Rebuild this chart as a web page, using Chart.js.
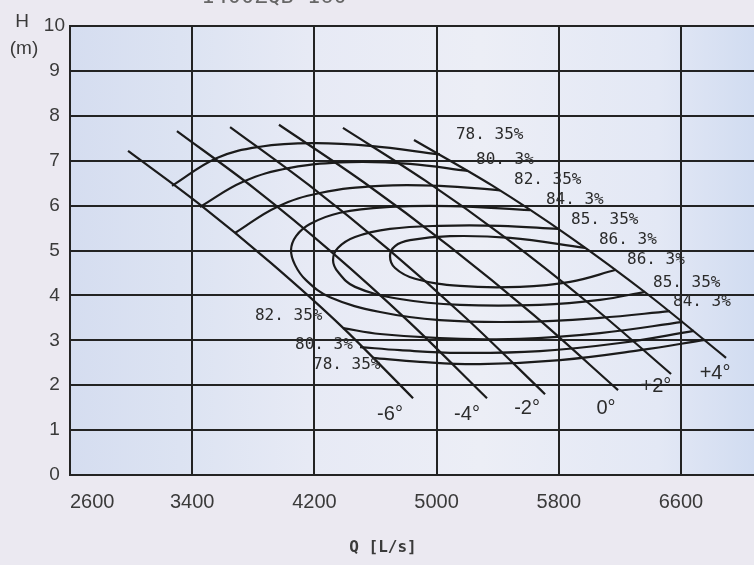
<!DOCTYPE html>
<html><head><meta charset="utf-8">
<script src="https://cdn.jsdelivr.net/npm/chart.js@4.4.1/dist/chart.umd.min.js"></script>
<style>html,body{margin:0;padding:0;background:#ebe9f1;overflow:hidden}canvas{display:block}</style>
</head><body>
<canvas id="c" width="754" height="565"></canvas>
<script>
// ---- axes ----
const xTicks = [2600, 3400, 4200, 5000, 5800, 6600];
const yTicks = [0, 1, 2, 3, 4, 5, 6, 7, 8, 9, 10];
const qMin = 2600, qMax = 7078, hMin = 0, hMax = 10;
const chartTitle = "1400ZQB-160";
const xTitle = "Q [L/s]";
const yTitle1 = "H", yTitle2 = "(m)";

// ---- blade angle curves [Q, H] ----
const bladeLabels = ["-6°", "-4°", "-2°", "0°", "+2°", "+4°"];
const bladeM6 = [[2980,7.22],[3445,6.04],[3913,4.73],[4381,3.30],[4846,1.71]];
const bladeM4 = [[3300,7.66],[3808,6.38],[4315,4.96],[4823,3.40],[5330,1.71]];
const bladeM2 = [[3648,7.75],[4163,6.46],[4679,5.04],[5194,3.49],[5710,1.80]];
const blade0  = [[3968,7.80],[4523,6.52],[5078,5.11],[5633,3.57],[6188,1.89]];
const bladeP2 = [[4387,7.73],[4924,6.56],[5461,5.26],[5998,3.82],[6535,2.25]];
const bladeP4 = [[4852,7.46],[5363,6.45],[5874,5.30],[6384,4.02],[6895,2.61]];
const bladeLabelQ = [4695, 5199, 5592, 6109, 6436, 6823];
const bladeLabelH = [1.34, 1.34, 1.49, 1.49, 1.98, 2.27];

// ---- efficiency contours [Q, H] ----
const eff7835Top    = [[3268,6.44],[3562,7.06],[3844,7.31],[4191,7.39],[4564,7.33],[5022,7.14]];
const eff7835Bottom = [[4577,2.61],[4891,2.52],[5284,2.47],[5808,2.56],[6332,2.78],[6757,3.01]];
const eff803Top     = [[3451,5.97],[3733,6.53],[4040,6.84],[4433,6.97],[4826,6.93],[5206,6.77]];
const eff803Bottom  = [[4499,2.85],[4760,2.78],[5153,2.72],[5677,2.76],[6201,2.94],[6685,3.21]];
const eff8235Top    = [[3680,5.39],[3955,5.97],[4237,6.28],[4630,6.44],[5022,6.44],[5415,6.34]];
const eff8235Bottom = [[4387,3.27],[4630,3.14],[5022,3.05],[5546,3.03],[6070,3.16],[6613,3.41]];
const eff843  = [[5612,5.90],[5088,5.99],[4695,5.97],[4368,5.84],[4171,5.59],[4080,5.32],[4047,5.01],[4073,4.68],[4145,4.34],[4302,3.96],[4630,3.63],[5022,3.45],[5546,3.41],[6070,3.50],[6528,3.65]];
const eff8535 = [[5795,5.48],[5415,5.55],[5022,5.55],[4695,5.48],[4466,5.30],[4355,5.06],[4322,4.79],[4355,4.52],[4466,4.19],[4760,3.92],[5153,3.79],[5677,3.79],[6070,3.90],[6365,4.08]];
const eff863  = [[5972,5.06],[5481,5.28],[5088,5.32],[4826,5.23],[4728,5.10],[4695,4.88],[4728,4.61],[4859,4.37],[5153,4.21],[5546,4.19],[5874,4.30],[6175,4.57]];

const effLabels = ["78. 35%","80. 3%","82. 35%","84. 3%","85. 35%","86. 3%","86. 3%","85. 35%","84. 3%","82. 35%","80. 3%","78. 35%"];
const effLabelQ = [5127, 5258, 5507, 5716, 5880, 6063, 6247, 6417, 6548, 3811, 4073, 4191];
const effLabelH = [7.57, 7.02, 6.57, 6.12, 5.68, 5.23, 4.79, 4.28, 3.85, 3.54, 2.90, 2.45];

// ---- build ----
const toPts = arr => arr.map(p => ({x: p[0], y: p[1]}));
const LINE = '#1b1b1b';
const blades = [bladeM6, bladeM4, bladeM2, blade0, bladeP2, bladeP4];
const contours = [eff7835Top, eff7835Bottom, eff803Top, eff803Bottom, eff8235Top, eff8235Bottom, eff843, eff8535, eff863];
const datasets = [];
blades.forEach((b, i) => datasets.push({label: bladeLabels[i], data: toPts(b), showLine: true, borderColor: LINE, borderWidth: 2.2, pointRadius: 0, cubicInterpolationMode: 'monotone', fill: false}));
contours.forEach(c => datasets.push({data: toPts(c), showLine: true, borderColor: LINE, borderWidth: 2.2, pointRadius: 0, tension: 0.4, fill: false}));

const bgPlugin = {
  id: 'bg',
  beforeDraw(chart) {
    const {ctx, chartArea: a} = chart;
    ctx.save();
    ctx.fillStyle = '#ebe9f1';
    ctx.fillRect(0, 0, chart.width, chart.height);
    const g = ctx.createLinearGradient(a.left, 0, a.right, 0);
    g.addColorStop(0, '#d5ddf0');
    g.addColorStop(0.16, '#dce3f2');
    g.addColorStop(0.35, '#e7eaf5');
    g.addColorStop(0.6, '#eceef6');
    g.addColorStop(0.86, '#e3e8f5');
    g.addColorStop(1, '#d1dcf1');
    ctx.fillStyle = g;
    ctx.fillRect(a.left, a.top, a.right - a.left, a.bottom - a.top);
    ctx.restore();
  }
};

const textPlugin = {
  id: 'texts',
  afterDatasetsDraw(chart) {
    const {ctx, scales: {x, y}} = chart;
    ctx.save();
    ctx.fillStyle = '#2b2b2b';
    ctx.textBaseline = 'middle';
    ctx.textAlign = 'left';
    ctx.font = '16px "DejaVu Sans Mono"';
    effLabels.forEach((t, i) => ctx.fillText(t, x.getPixelForValue(effLabelQ[i]), y.getPixelForValue(effLabelH[i])));
    ctx.textAlign = 'center';
    ctx.font = '20px "Liberation Sans", Arial';
    bladeLabels.forEach((t, i) => ctx.fillText(t, x.getPixelForValue(bladeLabelQ[i]), y.getPixelForValue(bladeLabelH[i])));
    // axis titles
    ctx.fillStyle = '#3a3a3a';
    ctx.font = '19px "Liberation Sans", Arial';
    ctx.fillText(yTitle1, 22, 22);
    ctx.fillText(yTitle2, 24, 49);
    ctx.font = 'bold 16px "DejaVu Sans Mono"';
    ctx.fillText(xTitle, 383, 548);
    ctx.fillStyle = '#666';
    ctx.textBaseline = 'alphabetic';
    ctx.font = '22px "DejaVu Sans Mono"';
    ctx.fillText(chartTitle, 274, 3);
    ctx.restore();
  }
};

new Chart(document.getElementById('c'), {
  type: 'scatter',
  data: {datasets},
  options: {
    responsive: false,
    devicePixelRatio: 1,
    animation: false,
    events: [],
    layout: {padding: {left: 0, right: 0, top: 26, bottom: 0}},
    plugins: {legend: {display: false}, tooltip: {enabled: false}, title: {display: false}},
    scales: {
      x: {
        type: 'linear', min: qMin, max: qMax,
        afterBuildTicks: s => { s.ticks = xTicks.concat([qMax]).map(v => ({value: v})); },
        afterFit: s => { s.height = 90; s.paddingRight = 0; s.paddingLeft = 0; },
        ticks: {
          align: 'inner', padding: 15, color: '#3a3a3a',
          font: {family: '"Liberation Sans", Arial', size: 20},
          callback: v => (xTicks.includes(v) ? String(v) : '')
        },
        grid: {
          drawTicks: false, lineWidth: 2,
          color: c => (c.tick && c.tick.value === qMax ? 'rgba(0,0,0,0)' : '#232323')
        },
        border: {display: true, color: '#232323', width: 2}
      },
      y: {
        type: 'linear', min: hMin, max: hMax,
        afterBuildTicks: s => { s.ticks = yTicks.map(v => ({value: v})); },
        afterFit: s => { s.width = 70; s.paddingTop = 0; s.paddingBottom = 0; },
        ticks: {
          crossAlign: 'center', padding: 5, color: '#3a3a3a',
          font: {family: '"Liberation Sans", Arial', size: 19}
        },
        grid: {drawTicks: false, lineWidth: 2, color: '#232323'},
        border: {display: true, color: '#232323', width: 2}
      }
    }
  },
  plugins: [bgPlugin, textPlugin]
});
</script>
</body></html>
